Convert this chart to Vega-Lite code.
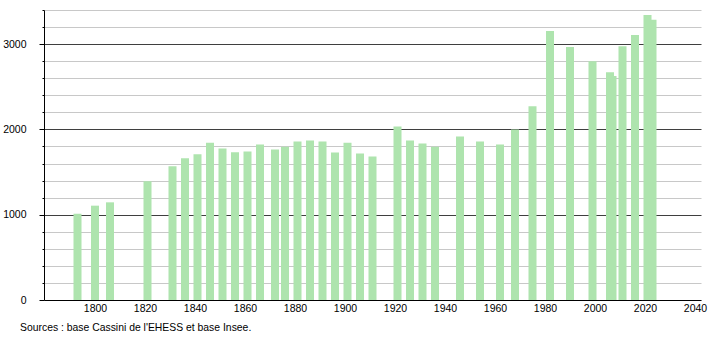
{
  "$schema": "https://vega.github.io/schema/vega-lite/v6.json",
  "width": 657,
  "height": 290,
  "autosize": "none",
  "padding": {"left": 44, "top": 10, "right": 9, "bottom": 40},
  "background": "white",
  "config": {
    "view": {"stroke": null},
    "font": "Liberation Sans"
  },
  "title": {
    "text": "Sources : base Cassini de l'EHESS et base Insee.",
    "orient": "bottom",
    "anchor": "start",
    "frame": "group",
    "dx": -24,
    "offset": 9,
    "fontSize": 10.4,
    "fontWeight": "normal",
    "font": "Liberation Sans",
    "color": "#000000"
  },
  "data": {
    "values": [
      {"year": 1793, "pop": 1012},
      {"year": 1800, "pop": 1106},
      {"year": 1806, "pop": 1145},
      {"year": 1821, "pop": 1392},
      {"year": 1831, "pop": 1569},
      {"year": 1836, "pop": 1663},
      {"year": 1841, "pop": 1710},
      {"year": 1846, "pop": 1843},
      {"year": 1851, "pop": 1776},
      {"year": 1856, "pop": 1733},
      {"year": 1861, "pop": 1741},
      {"year": 1866, "pop": 1824},
      {"year": 1872, "pop": 1765},
      {"year": 1876, "pop": 1796},
      {"year": 1881, "pop": 1859},
      {"year": 1886, "pop": 1871},
      {"year": 1891, "pop": 1859},
      {"year": 1896, "pop": 1729},
      {"year": 1901, "pop": 1843},
      {"year": 1906, "pop": 1718},
      {"year": 1911, "pop": 1682},
      {"year": 1921, "pop": 2035},
      {"year": 1926, "pop": 1871},
      {"year": 1931, "pop": 1835},
      {"year": 1936, "pop": 1796},
      {"year": 1946, "pop": 1918},
      {"year": 1954, "pop": 1859},
      {"year": 1962, "pop": 1824},
      {"year": 1968, "pop": 2000},
      {"year": 1975, "pop": 2271},
      {"year": 1982, "pop": 3153},
      {"year": 1990, "pop": 2965},
      {"year": 1999, "pop": 2800},
      {"year": 2007, "pop": 2625},
      {"year": 2006, "pop": 2671},
      {"year": 2011, "pop": 2976},
      {"year": 2016, "pop": 3106},
      {"year": 2023, "pop": 3285},
      {"year": 2021, "pop": 3341}
    ]
  },
  "mark": {"type": "bar", "size": 8, "color": "#aee4ae", "orient": "vertical"},
  "encoding": {
    "x": {
      "field": "year",
      "type": "quantitative",
      "scale": {"domain": [1779.6, 2042.4], "nice": false, "zero": false, "padding": 0},
      "axis": {
        "title": null,
        "values": [1800, 1820, 1840, 1860, 1880, 1900, 1920, 1940, 1960, 1980, 2000, 2020, 2040],
        "format": "d",
        "grid": false,
        "ticks": false,
        "labelPadding": 3,
        "labelFontSize": 10.5,
        "labelColor": "#000000",
        "domainColor": "#000000",
        "domainWidth": 1,
        "labelFlush": false,
        "labelOverlap": false
      }
    },
    "y": {
      "field": "pop",
      "type": "quantitative",
      "scale": {"domain": [0, 3400], "nice": false, "padding": 0},
      "axis": {
        "title": null,
        "values": [0, 200, 400, 600, 800, 1000, 1200, 1400, 1600, 1800, 2000, 2200, 2400, 2600, 2800, 3000, 3200, 3400],
        "labelExpr": "datum.value % 1000 === 0 ? datum.label : ''",
        "format": "d",
        "grid": true,
        "gridColor": {"condition": {"test": "datum.value % 1000 === 0 && datum.value > 0", "value": "#3f3f3f"}, "value": "#c8c8c8"},
        "gridWidth": 1,
        "tickColor": "#000000",
        "tickSize": {"condition": {"test": "datum.value % 1000 === 0", "value": 5}, "value": 2},
        "labelPadding": 13,
        "labelFontSize": 10.5,
        "labelColor": "#000000",
        "domainColor": "#000000",
        "labelFlush": false,
        "labelOverlap": false
      }
    }
  }
}
